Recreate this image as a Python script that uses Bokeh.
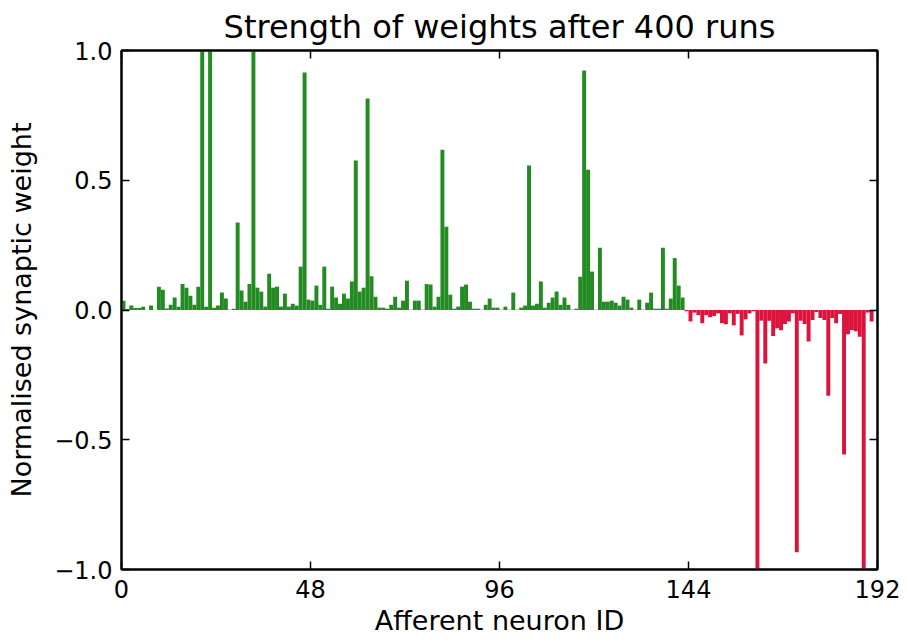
from bokeh.plotting import figure
from bokeh.models import LinearAxis, FixedTicker, Range1d, ColumnDataSource
from bokeh.embed import file_html
from bokeh.resources import INLINE

title = "Strength of weights after 400 runs"
x_label = "Afferent neuron ID"
y_label = "Normalised synaptic weight"

# normalised weights of excitatory afferents (neuron IDs 0..142)
excitatory_weights = [
    0.036, 0.004, 0.017, 0.008, 0.008, 0.013, 0.000, 0.017, 0.000, 0.090,
    0.078, 0.006, 0.020, 0.048, 0.013, 0.100, 0.086, 0.055, 0.020, 0.090,
    1.000, 0.013, 1.000, 0.009, 0.017, 0.067, 0.044, 0.001, 0.005, 0.337,
    0.075, 0.032, 0.100, 1.000, 0.086, 0.071, 0.013, 0.140, 0.086, 0.090,
    0.013, 0.063, 0.013, 0.024, 0.017, 0.167, 0.915, 0.040, 0.036, 0.094,
    0.020, 0.167, 0.005, 0.090, 0.048, 0.024, 0.063, 0.044, 0.110, 0.576,
    0.071, 0.086, 0.815, 0.130, 0.051, 0.009, 0.009, 0.005, 0.020, 0.051,
    0.009, 0.036, 0.113, 0.001, 0.036, 0.036, 0.001, 0.100, 0.098, 0.013,
    0.051, 0.618, 0.321, 0.059, 0.005, 0.013, 0.090, 0.098, 0.032, 0.005,
    0.005, 0.001, 0.020, 0.044, 0.009, 0.009, 0.001, 0.013, 0.001, 0.067,
    0.001, 0.009, 0.017, 0.557, 0.017, 0.024, 0.110, 0.009, 0.028, 0.048,
    0.071, 0.020, 0.048, 0.020, 0.001, 0.005, 0.128, 0.923, 0.540, 0.148,
    0.001, 0.240, 0.032, 0.032, 0.036, 0.028, 0.017, 0.051, 0.040, 0.009,
    0.001, 0.040, 0.001, 0.028, 0.067, 0.005, 0.005, 0.240, 0.005, 0.044,
    0.200, 0.094, 0.048,
]

# normalised weights of inhibitory afferents (neuron IDs 143..190)
inhibitory_weights = [
    -0.005, -0.044, -0.010, -0.020, -0.051, -0.020, -0.028, -0.023, -0.013, -0.051,
    -0.055, -0.013, -0.059, -0.015, -0.098, -0.036, -0.013, -0.005, -1.000, -0.041,
    -0.206, -0.041, -0.100, -0.070, -0.078, -0.054, -0.044, -0.013, -0.934, -0.041,
    -0.054, -0.121, -0.039, -0.008, -0.031, -0.039, -0.330, -0.031, -0.051, -0.015,
    -0.557, -0.093, -0.077, -0.082, -0.103, -1.000, -0.010, -0.044,
]

x_ticks = [0, 48, 96, 144, 192]
x_tick_labels = ["0", "48", "96", "144", "192"]
y_ticks = [-1.0, -0.5, 0.0, 0.5, 1.0]
y_tick_labels = ["\u22121.0", "\u22120.5", "0.0", "0.5", "1.0"]

exc_color = "#228B22"
inh_color = "#DC143C"

n_exc = len(excitatory_weights)
exc_ids = list(range(n_exc))
inh_ids = list(range(n_exc, n_exc + len(inhibitory_weights)))

exc_src = ColumnDataSource(dict(
    left=exc_ids, right=[i + 1 for i in exc_ids],
    top=excitatory_weights, bottom=[0.0] * n_exc))
inh_src = ColumnDataSource(dict(
    left=inh_ids, right=[i + 1 for i in inh_ids],
    top=[0.0] * len(inh_ids), bottom=inhibitory_weights))

p = figure(width=909, height=642, output_backend="svg", toolbar_location=None,
           x_range=Range1d(0, 192), y_range=Range1d(-1, 1),
           min_border_left=121, min_border_right=32, min_border_top=50,
           min_border_bottom=73, title=title)

p.quad(left="left", right="right", top="top", bottom="bottom", source=exc_src,
       fill_color=exc_color, line_color=None)
p.quad(left="left", right="right", top="top", bottom="bottom", source=inh_src,
       fill_color=inh_color, line_color=None)

p.xgrid.visible = False
p.ygrid.visible = False
p.background_fill_color = "white"
p.border_fill_color = "white"
p.outline_line_color = "black"
p.outline_line_width = 2
p.outline_line_alpha = 1.0

p.title.text_font = "DejaVu Sans"
p.title.text_font_size = "32px"
p.title.text_font_style = "normal"
p.title.text_color = "black"
p.title.align = "center"


def style_axis(ax, ticks, labels, show):
    ax.ticker = FixedTicker(ticks=ticks)
    ax.major_tick_in = 8
    ax.major_tick_out = 0
    ax.minor_tick_in = 0
    ax.minor_tick_out = 0
    ax.axis_line_color = "black"
    ax.axis_line_width = 2
    ax.major_tick_line_color = "black"
    ax.major_tick_line_width = 1.5
    ax.major_label_text_font = "DejaVu Sans"
    ax.axis_label_text_font = "DejaVu Sans"
    ax.axis_label_text_font_style = "normal"
    ax.axis_label_text_color = "black"
    ax.axis_label_text_font_size = "27px"
    if show:
        ax.major_label_overrides = {t: l for t, l in zip(ticks, labels)}
        ax.major_label_text_font_size = "24px"
        ax.major_label_text_color = "black"
    else:
        # mirrored ticks only (matplotlib-style frame), labels not drawn
        ax.major_label_text_font_size = "1px"
        ax.major_label_text_color = None
        ax.major_label_standoff = 0


xa = p.xaxis[0]
style_axis(xa, x_ticks, x_tick_labels, True)
xa.axis_label = x_label
xa.major_label_standoff = 10
xa.axis_label_standoff = 4

ya = p.yaxis[0]
style_axis(ya, y_ticks, y_tick_labels, True)
ya.axis_label = y_label
ya.major_label_standoff = 9
ya.axis_label_standoff = 14

top_ax = LinearAxis()
style_axis(top_ax, x_ticks, x_tick_labels, False)
p.add_layout(top_ax, "above")

right_ax = LinearAxis()
style_axis(right_ax, y_ticks, y_tick_labels, False)
p.add_layout(right_ax, "right")

open("out.html", "w").write(file_html(p, INLINE))
